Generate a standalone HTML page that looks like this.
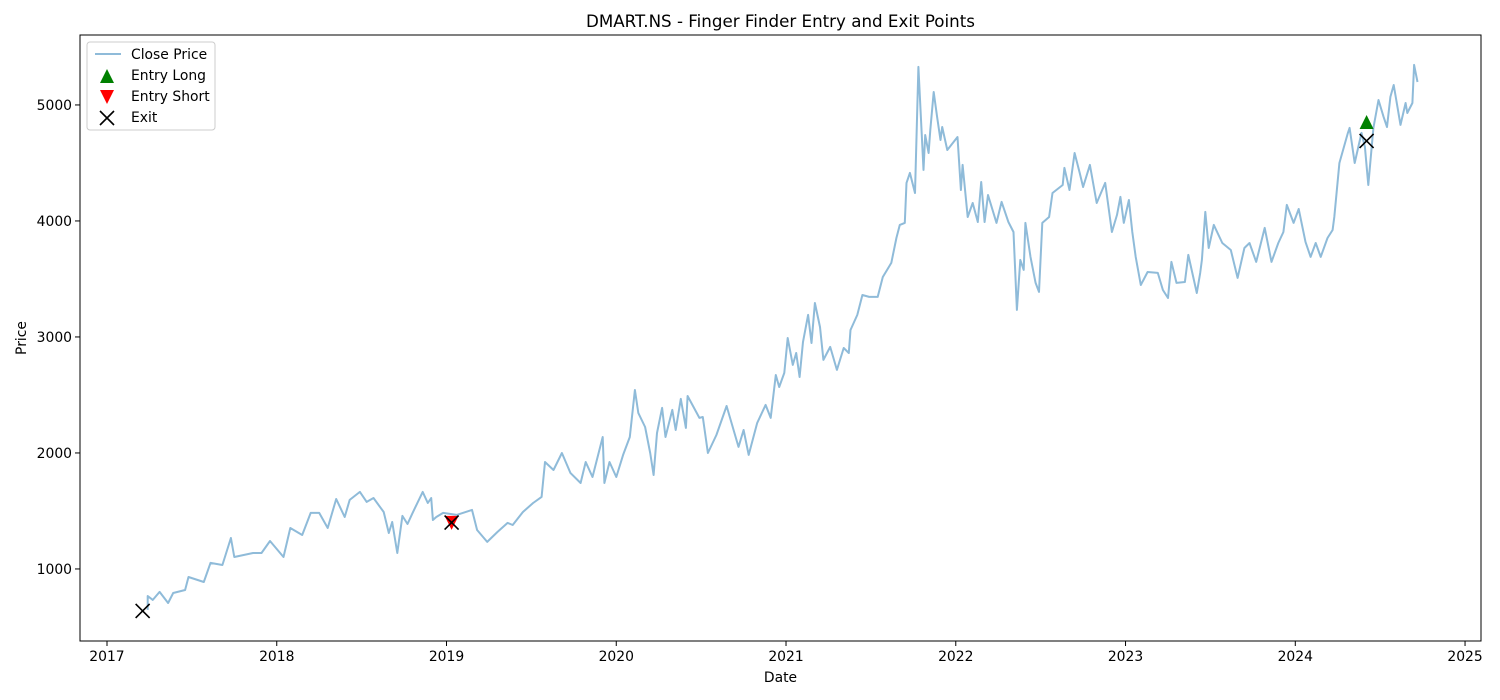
<!DOCTYPE html>
<html><head><meta charset="utf-8"><style>
html,body{margin:0;padding:0;background:#fff;}
svg{display:block;font-family:"DejaVu Sans","Liberation Sans",sans-serif;}
</style></head><body>
<svg id="chart" width="1500" height="700" viewBox="0 0 1500 700" xmlns="http://www.w3.org/2000/svg">
<rect width="1500" height="700" fill="#fff"/>
<text x="780.5" y="27" font-size="16.7" text-anchor="middle" fill="#000">DMART.NS - Finger Finder Entry and Exit Points</text>
<g id="marks"></g>
<rect x="80" y="35" width="1401" height="606" fill="none" stroke="#000" stroke-width="1"/>
<g id="axes"></g>
<text x="780.5" y="682" font-size="13.9" text-anchor="middle">Date</text>
<text x="0" y="0" font-size="13.9" text-anchor="middle" transform="translate(26,338) rotate(-90)">Price</text>
<g>
<rect x="87" y="42" width="128" height="88" rx="3" fill="#fff" fill-opacity="0.8" stroke="#ccc"/>
<line x1="95" y1="54" x2="121" y2="54" stroke="#1f77b4" stroke-opacity="0.5" stroke-width="2"/>
<text x="131" y="59" font-size="13.9">Close Price</text>
<polygon points="100,83 114,83 107,69" fill="green"/>
<text x="131" y="80" font-size="13.9">Entry Long</text>
<polygon points="100,90 114,90 107,104" fill="red"/>
<text x="131" y="101" font-size="13.9">Entry Short</text>
<path d="M100,111 L114,125 M114,111 L100,125" stroke="#000" stroke-width="1.6"/>
<text x="131" y="122" font-size="13.9">Exit</text>
</g>
</svg>
<script>
const dates=[2017.24,2017.24,2017.27,2017.31,2017.36,2017.39,2017.46,2017.48,2017.57,2017.61,2017.68,2017.73,2017.75,2017.86,2017.91,2017.96,2018.04,2018.08,2018.15,2018.20,2018.25,2018.30,2018.35,2018.40,2018.43,2018.49,2018.53,2018.57,2018.63,2018.66,2018.68,2018.71,2018.74,2018.77,2018.80,2018.86,2018.89,2018.91,2018.92,2018.94,2018.98,2019.06,2019.15,2019.18,2019.24,2019.30,2019.36,2019.39,2019.45,2019.51,2019.56,2019.58,2019.63,2019.68,2019.73,2019.79,2019.82,2019.86,2019.92,2019.93,2019.96,2020.00,2020.04,2020.08,2020.11,2020.13,2020.17,2020.20,2020.22,2020.24,2020.27,2020.29,2020.33,2020.35,2020.38,2020.41,2020.42,2020.49,2020.51,2020.54,2020.59,2020.65,2020.72,2020.75,2020.78,2020.83,2020.88,2020.91,2020.94,2020.96,2020.99,2021.01,2021.04,2021.06,2021.08,2021.10,2021.13,2021.15,2021.17,2021.20,2021.22,2021.26,2021.30,2021.34,2021.37,2021.38,2021.42,2021.45,2021.49,2021.54,2021.57,2021.62,2021.65,2021.67,2021.70,2021.71,2021.73,2021.76,2021.78,2021.81,2021.82,2021.84,2021.85,2021.87,2021.89,2021.91,2021.92,2021.95,2022.01,2022.03,2022.04,2022.07,2022.10,2022.13,2022.15,2022.17,2022.19,2022.24,2022.27,2022.31,2022.34,2022.36,2022.38,2022.40,2022.41,2022.44,2022.47,2022.49,2022.51,2022.55,2022.57,2022.63,2022.64,2022.67,2022.70,2022.73,2022.75,2022.79,2022.83,2022.88,2022.92,2022.95,2022.97,2022.99,2023.02,2023.04,2023.06,2023.09,2023.13,2023.19,2023.22,2023.25,2023.27,2023.30,2023.35,2023.37,2023.42,2023.44,2023.45,2023.47,2023.49,2023.52,2023.57,2023.62,2023.66,2023.70,2023.73,2023.77,2023.82,2023.86,2023.90,2023.93,2023.95,2023.99,2024.02,2024.06,2024.09,2024.12,2024.15,2024.19,2024.22,2024.23,2024.26,2024.31,2024.32,2024.35,2024.39,2024.41,2024.43,2024.46,2024.49,2024.52,2024.54,2024.56,2024.58,2024.62,2024.65,2024.66,2024.69,2024.70,2024.72];
const prices=[647,767,733,802,707,793,819,931,888,1052,1034,1267,1103,1138,1138,1241,1103,1353,1293,1483,1483,1353,1603,1448,1595,1664,1578,1612,1491,1310,1405,1138,1457,1388,1483,1664,1569,1612,1422,1448,1483,1466,1509,1336,1233,1319,1397,1379,1491,1569,1621,1922,1853,2000,1828,1741,1922,1793,2138,1741,1922,1793,1983,2138,2543,2345,2224,2000,1810,2172,2388,2138,2371,2198,2466,2216,2491,2302,2310,2000,2155,2405,2052,2198,1983,2259,2414,2302,2672,2569,2690,2991,2759,2862,2655,2957,3190,2948,3293,3086,2802,2914,2716,2905,2862,3060,3190,3362,3345,3345,3517,3638,3853,3966,3983,4328,4414,4241,5328,4440,4741,4586,4784,5112,4897,4698,4810,4612,4724,4267,4483,4034,4155,3991,4336,3991,4224,3983,4164,3991,3905,3233,3664,3578,3983,3690,3466,3388,3983,4034,4241,4310,4457,4267,4586,4414,4293,4483,4155,4328,3905,4052,4207,3983,4181,3905,3690,3448,3560,3552,3405,3336,3647,3466,3474,3707,3379,3552,3664,4078,3767,3966,3810,3750,3509,3767,3810,3647,3940,3647,3810,3905,4138,3983,4103,3819,3690,3810,3690,3853,3922,4034,4500,4759,4802,4500,4759,4638,4310,4802,5043,4897,4810,5069,5172,4828,5017,4931,5017,5345,5198,5345];
const longDates=[2024.42], longPrices=[4853];
const shortDates=[2019.03], shortPrices=[1397];
const exitDates=[2017.21,2019.03,2024.42], exitPrices=[638,1400,4690];
const xTicks=[2017,2018,2019,2020,2021,2022,2023,2024,2025];
const yTicks=[1000,2000,3000,4000,5000];

const X0=80,X1=1481,Y0=35,Y1=641;
const xMin=2016.841,xMax=2025.094,yMin=379,yMax=5603;
const sx=v=>X0+(v-xMin)/(xMax-xMin)*(X1-X0);
const sy=v=>Y1-(v-yMin)/(yMax-yMin)*(Y1-Y0);
const NS="http://www.w3.org/2000/svg";
const marks=document.getElementById('marks'), axes=document.getElementById('axes');
function mk(tag,attrs,parent){const e=document.createElementNS(NS,tag);for(const k in attrs)e.setAttribute(k,attrs[k]);parent.appendChild(e);return e;}

const line=mk('path',{d:dates.map((d,i)=>(i?'L':'M')+sx(d).toFixed(1)+','+sy(prices[i]).toFixed(1)).join(''),fill:'none',stroke:'#1f77b4','stroke-opacity':0.5,'stroke-width':2,'stroke-linejoin':'round'},marks);



longDates.forEach((d,i)=>{const x=sx(d),y=sy(longPrices[i]);
 const p=mk('polygon',{points:`${x-7},${y+7} ${x+7},${y+7} ${x},${y-7}`,fill:'green'},marks);
 
 });
shortDates.forEach((d,i)=>{const x=sx(d),y=sy(shortPrices[i]);
 const p=mk('polygon',{points:`${x-7},${y-7} ${x+7},${y-7} ${x},${y+7}`,fill:'red'},marks);
 
 });
exitDates.forEach((d,i)=>{const x=sx(d),y=sy(exitPrices[i]);
 const p=mk('path',{d:`M${x-7},${y-7}L${x+7},${y+7}M${x+7},${y-7}L${x-7},${y+7}`,stroke:'#000','stroke-width':1.6},marks);
 
 });

xTicks.forEach(t=>{const x=sx(t);
 const l=mk('line',{x1:x,y1:Y1,x2:x,y2:Y1+5,stroke:'#000'},axes);
 
 
 const tx=mk('text',{x:x,y:Y1+20,'font-size':13.9,'text-anchor':'middle'},axes);tx.textContent=t;
 
 });
yTicks.forEach(t=>{const y=sy(t);
 const l=mk('line',{x1:X0-5,y1:y,x2:X0,y2:y,stroke:'#000'},axes);
 
 
 const tx=mk('text',{x:X0-8,y:y+5,'font-size':13.9,'text-anchor':'end'},axes);tx.textContent=t;
 
 });
</script>
</body></html>
